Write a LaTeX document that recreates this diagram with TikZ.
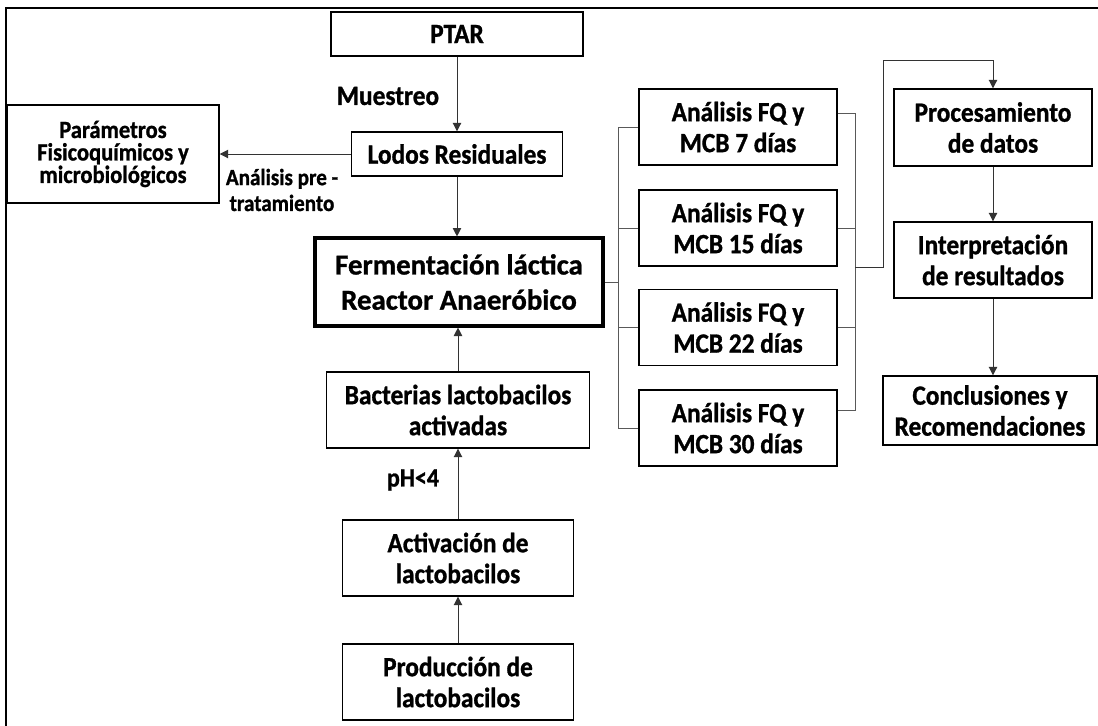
\documentclass[tikz,border=0pt]{standalone}
\usepackage{fontspec}
\setmainfont{Carlito}[BoldFeatures={FakeStretch=0.91,FakeBold=1}]
\newfontfamily\fermfont{Carlito}[BoldFeatures={FakeBold=1}]
\usetikzlibrary{arrows.meta}
\begin{document}
\begin{tikzpicture}[x=0.025cm,y=-0.025cm,
		caja/.style={draw,line width=1pt,align=center,inner sep=0pt,font=\bfseries\fontsize{19.8}{22}\selectfont},
		etiq/.style={align=center,inner sep=0pt,font=\bfseries\fontsize{19.8}{22}\selectfont},
		flecha/.style={draw=black!80,line width=0.7pt,-{Triangle[length=6pt,width=6pt]}},
		linea/.style={draw=black!65,line width=0.7pt}]
				\useasboundingbox (0,0) rectangle (1098,725);
				\draw[line width=0.05cm] (6,8) rectangle (1120,740);
				% columna central
				\node[caja,minimum width=6.3cm,minimum height=1.1cm] (ptar) at (457,34) {PTAR};
				\node[caja,minimum width=5.275cm,minimum height=1.1cm] (lodos) at (457,154) {Lodos Residuales};
				\node[caja,minimum width=5.3cm,minimum height=2.45cm,font=\bfseries\fontsize{17.6}{16}\selectfont] (param) at (113,154) {Parámetros\\Fisicoquímicos y\\microbiológicos};
				\node[caja,line width=2.2pt,minimum width=7.2cm,minimum height=2.2cm,font=\fermfont\bfseries\fontsize{20.5}{25}\selectfont] (ferm) at (459,282) {Fermentación láctica\\Reactor Anaeróbico};
				\node[caja,minimum width=6.575cm,minimum height=1.9cm] (bact) at (458,410) {Bacterias lactobacilos\\activadas};
				\node[caja,minimum width=5.775cm,minimum height=1.9cm] (act) at (458,558) {Activación de\\lactobacilos};
				\node[caja,minimum width=5.775cm,minimum height=1.9cm] (prod) at (458,682) {Producción de\\lactobacilos};
				\node[etiq] (muestreo) at (388,96) {Muestreo};
				\node[etiq,font=\bfseries\fontsize{16.5}{18.4}\selectfont] (pre) at (282,190) {Análisis pre -\\tratamiento};
				\node[etiq,font=\bfseries\fontsize{18.7}{20}\selectfont] (ph) at (413,480) {pH<4};
				% analisis
				\node[caja,minimum width=4.95cm,minimum height=1.9cm] (an7) at (738,127) {Análisis FQ y\\MCB 7 días};
				\node[caja,minimum width=4.95cm,minimum height=1.9cm] (an15) at (738,228) {Análisis FQ y\\MCB 15 días};
				\node[caja,minimum width=4.95cm,minimum height=1.9cm] (an22) at (738,327.5) {Análisis FQ y\\MCB 22 días};
				\node[caja,minimum width=4.95cm,minimum height=1.9cm] (an30) at (738,428) {Análisis FQ y\\MCB 30 días};
				% columna derecha
				\node[caja,minimum width=4.95cm,minimum height=1.925cm] (proc) at (993,127.5) {Procesamiento\\de datos};
				\node[caja,minimum width=4.95cm,minimum height=1.9cm] (interp) at (993,260) {Interpretación\\de resultados};
				\node[caja,minimum width=5.35cm,minimum height=1.725cm] (concl) at (990,410.5) {Conclusiones y\\Recomendaciones};
				% flechas
				\draw[flecha] (ptar) -- (lodos);
				\draw[flecha] (lodos) -- (param);
				\draw[flecha] (lodos.south) -- (lodos.south |- ferm.north);
				\draw[flecha] (bact) -- (bact.north |- ferm.south);
				\draw[flecha] (act) -- (bact);
				\draw[flecha] (prod) -- (act);
				\coordinate (bi) at (618,282);
				\draw[linea] (ferm.east) -- (bi);
				\foreach \n in {an7,an15,an22,an30} \draw[linea] (\n.west) -| (bi);
				\coordinate (bd) at (855,267);
				\draw[linea] ([yshift=0.35cm]an7.east) -| (bd);
				\draw[linea] ([yshift=0.45cm]an30.east) -| (bd);
				\draw[linea] (an15.east) -| (bd) (an22.east) -| (bd);
				\coordinate (giro) at (883,60);
				\draw[flecha] (bd) -- (bd -| giro) -- (giro) -| (proc.north);
				\draw[flecha] (proc) -- (interp);
				\draw[flecha] (interp.south) -- (interp.south |- concl.north);
\end{tikzpicture}
\end{document}
